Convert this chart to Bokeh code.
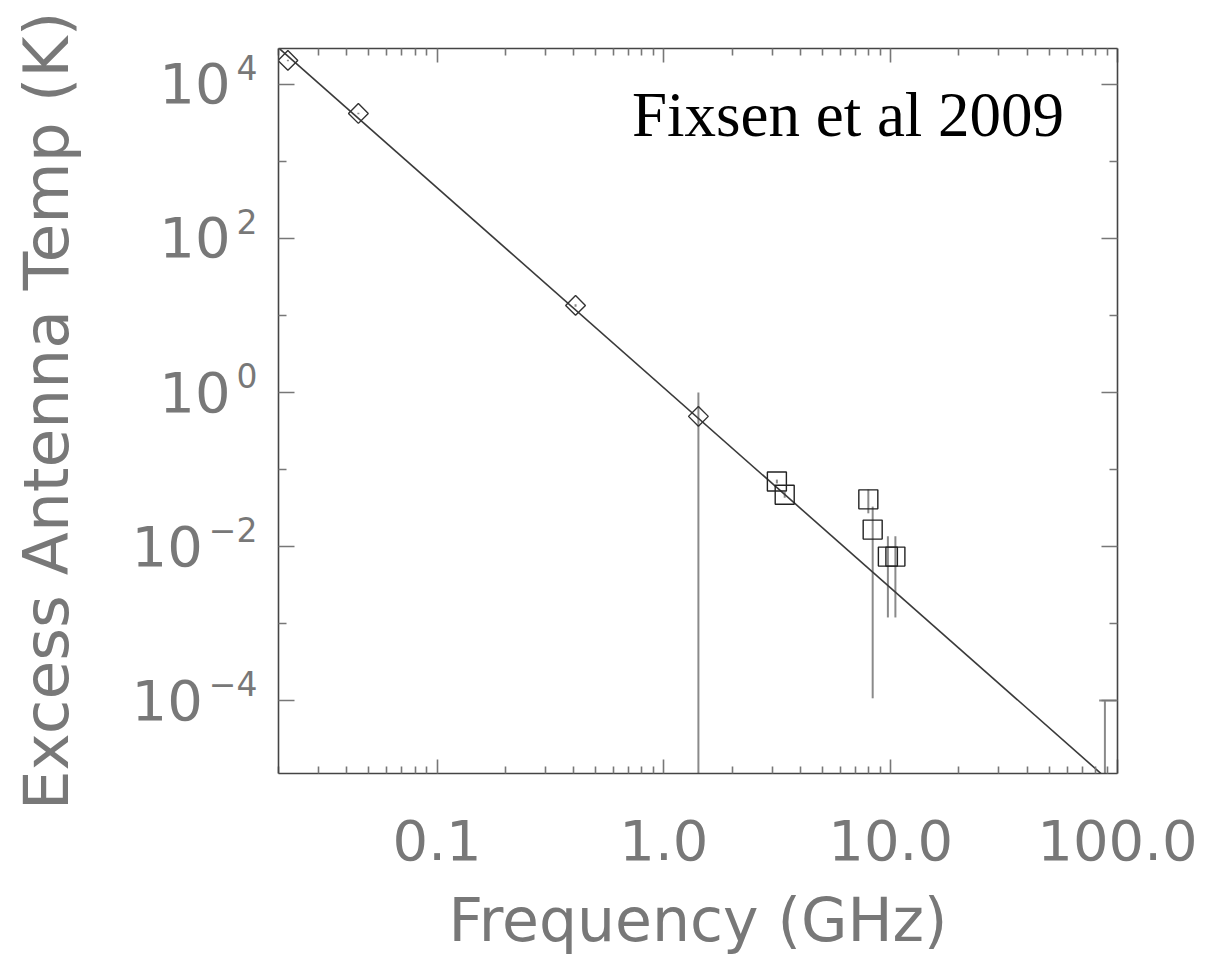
import math
import numpy as np
from bokeh.plotting import figure
from bokeh.layouts import row
from bokeh.models import (FixedTicker, LogAxis, Label, Range1d, CustomJSTickFormatter)
from bokeh.core.properties import value
from bokeh.embed import file_html
from bokeh.resources import INLINE

# ---------------- data ----------------
# low-frequency radio surveys (diamonds)
diamond_freq = [0.022, 0.045, 0.408, 1.42]          # GHz
diamond_temp = [2.05e4, 4.2e3, 13.5, 0.49]          # K
diamond_lo = [2.0e4, 4.1e3, 13.0, 1e-7]
diamond_hi = [2.1e4, 4.3e3, 14.0, 1.0]

# ARCADE 2 measurements (squares)
square_freq = [3.15, 3.41, 7.97, 8.33, 9.72, 10.49]
square_temp = [0.070, 0.047, 0.041, 0.0166, 0.0074, 0.0074]
square_lo = [0.066, 0.043, 0.027, 1.07e-4, 0.0012, 0.0012]
square_hi = [0.074, 0.051, 0.055, 0.033, 0.0136, 0.0136]

# 90 GHz upper error (point below the plotted range)
w_freq = [88.0]
w_lo = [1e-7]
w_hi = [1e-4]
w_cap_x0 = [83.0]
w_cap_x1 = [99.0]

# power-law fit  T = 24.1 K (nu / 0.31 GHz)^-2.599, end points
fit_freq = [0.02, 100.0]
fit_temp = [2.99e4, 7.3e-6]

x_major = [0.1, 1.0, 10.0, 100.0]
x_labels = ["0.1", "1.0", "10.0", "100.0"]
x_minor = [0.02, 0.03, 0.04, 0.05, 0.06, 0.07, 0.08, 0.09,
           0.2, 0.3, 0.4, 0.5, 0.6, 0.7, 0.8, 0.9,
           2, 3, 4, 5, 6, 7, 8, 9,
           20, 30, 40, 50, 60, 70, 80, 90]
y_major = [1e-4, 1e-2, 1.0, 1e2, 1e4]
y_base = "10"
y_exponents = ["\u22124", "\u22122", "0", "2", "4"]
y_minor = [1e-5, 1e-3, 1e-1, 1e1, 1e3]

x_title = "Frequency (GHz)"
y_title = "Excess Antenna Temp (K)"
annotation_text = "Fixsen et al 2009"

# ---------------- layout constants ----------------
FONT = "DejaVu Sans"
TXT = "#787878"
AX = "#444444"
BASE_SIZE = 56
EXP_SIZE = 33
X0, X1 = 0.02, 100.0
Y0, Y1 = 1.13e-5, 2.93e4
FRAME_W, FRAME_H = 839, 725
TOP, BOTTOM = 48, 187
STRIP_LEFT, STRIP_W = 100, 176     # left strip: border + frame carrying y tick labels

y_range = Range1d(Y0, Y1)

# ---------------- left strip: y tick labels and y title ----------------
strip = figure(frame_width=STRIP_W, frame_height=FRAME_H,
               x_range=Range1d(STRIP_LEFT, STRIP_LEFT + STRIP_W),
               y_range=y_range, y_axis_type="log", x_axis_location=None,
               min_border_left=STRIP_LEFT, min_border_right=0,
               min_border_top=TOP, min_border_bottom=BOTTOM,
               output_backend="svg", toolbar_location=None,
               background_fill_color="white", border_fill_color="white")
strip.grid.visible = False
strip.outline_line_color = None
sa = strip.yaxis[0]
sa.ticker = FixedTicker(ticks=[])
sa.formatter = CustomJSTickFormatter(code="return '';")
sa.axis_line_color = None
sa.major_tick_line_color = None
sa.minor_tick_line_color = None
sa.major_tick_out = 0
sa.minor_tick_out = 0
sa.major_label_standoff = 0
sa.axis_label = y_title
sa.axis_label_text_font = FONT
sa.axis_label_text_font_size = "63px"
sa.axis_label_text_color = TXT
sa.axis_label_text_font_style = "normal"
sa.axis_label_standoff = 18

EXP_RIGHT = 257          # right edge of the exponents (px)
GAP = 6
ADV = {"\u2212": 0.838}  # DejaVu advance widths (em); digits 0.636
base_x = [EXP_RIGHT - sum(ADV.get(c, 0.636) for c in ex) * EXP_SIZE - GAP
          for ex in y_exponents]
strip.text(x=base_x, y=y_major, text=[y_base] * len(y_major),
           text_font=value(FONT), text_font_size=value(f"{BASE_SIZE}px"),
           text_color=TXT, text_align="right", text_baseline="alphabetic",
           y_offset=-1)
strip.text(x=[EXP_RIGHT] * len(y_major), y=y_major, text=y_exponents,
           text_font=value(FONT), text_font_size=value(f"{EXP_SIZE}px"),
           text_color=TXT, text_align="right", text_baseline="alphabetic",
           y_offset=-17)

# ---------------- main plot ----------------
p = figure(x_axis_type="log", y_axis_type="log",
           x_range=Range1d(X0, X1), y_range=y_range,
           frame_width=FRAME_W, frame_height=FRAME_H,
           min_border_left=2, min_border_right=100,
           min_border_top=TOP, min_border_bottom=BOTTOM,
           output_backend="svg", toolbar_location=None,
           background_fill_color="white", border_fill_color="white")
p.grid.visible = False
p.outline_line_color = None

xt = FixedTicker(ticks=x_major, minor_ticks=x_minor)
yt = FixedTicker(ticks=y_major, minor_ticks=y_minor)

fmt_x = CustomJSTickFormatter(args=dict(vals=x_major, labs=x_labels), code="""
const i = vals.findIndex(v => Math.abs(Math.log10(v) - Math.log10(tick)) < 1e-6);
return i >= 0 ? labs[i] : '';
""")
blank = CustomJSTickFormatter(code="return '';")


def style(ax, major_len, minor_len):
    ax.axis_line_color = AX
    ax.axis_line_width = 1.6
    ax.major_tick_line_color = "#777777"
    ax.minor_tick_line_color = "#777777"
    ax.major_tick_line_width = 1.6
    ax.minor_tick_line_width = 1.6
    ax.major_tick_in = major_len
    ax.major_tick_out = 0
    ax.minor_tick_in = minor_len
    ax.minor_tick_out = 0


xa = p.xaxis[0]
xa.ticker = xt
xa.formatter = fmt_x
style(xa, 14, 7)
xa.major_label_text_font = FONT
xa.major_label_text_font_size = f"{BASE_SIZE}px"
xa.major_label_text_color = TXT
xa.major_label_standoff = 46
xa.axis_label = x_title
xa.axis_label_text_font = FONT
xa.axis_label_text_font_size = "60px"
xa.axis_label_text_color = TXT
xa.axis_label_text_font_style = "normal"
xa.axis_label_standoff = 22

ya = p.yaxis[0]
ya.ticker = yt
ya.formatter = blank
style(ya, 16, 8)
ya.major_label_standoff = 0

ra = LogAxis(ticker=yt, formatter=blank)
style(ra, 16, 8)
p.add_layout(ra, "right")
ta = LogAxis(ticker=xt, formatter=blank)
style(ta, 14, 7)
p.add_layout(ta, "above")

# error bars
EB = "#8a8a8a"
p.segment(x0=diamond_freq, y0=diamond_lo, x1=diamond_freq, y1=diamond_hi,
          line_color=EB, line_width=2)
p.segment(x0=square_freq, y0=square_lo, x1=square_freq, y1=square_hi,
          line_color=EB, line_width=2)
p.segment(x0=w_freq, y0=w_lo, x1=w_freq, y1=w_hi, line_color=EB, line_width=2)
p.segment(x0=w_cap_x0, y0=w_hi, x1=w_cap_x1, y1=w_hi, line_color=EB, line_width=2)

# fit line
p.line(fit_freq, fit_temp, line_color="#3a3a3a", line_width=1.6)

# markers
p.scatter(diamond_freq, diamond_temp, marker="square", size=14, angle=np.pi / 4,
          fill_color=None, line_color="#333333", line_width=1.4)
p.scatter(square_freq, square_temp, marker="square", size=19,
          fill_color=None, line_color="#222222", line_width=1.4)

p.add_layout(Label(x=0.723, y=1932, text=annotation_text, y_offset=24,
                   text_font="Liberation Serif", text_font_size="63px",
                   text_color="black", text_baseline="alphabetic",
                   text_align="left"))

layout = row(strip, p, spacing=0)
open("out.html", "w").write(file_html(layout, INLINE))
